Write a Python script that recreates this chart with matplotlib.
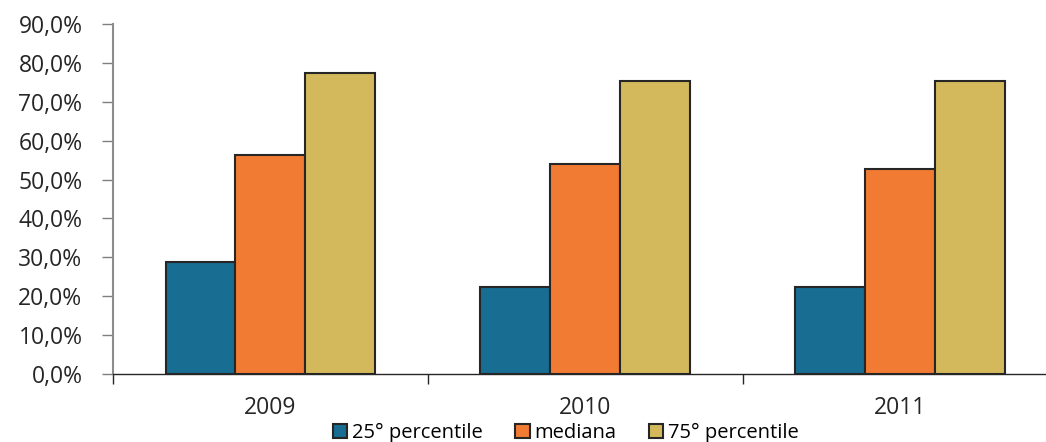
import matplotlib
matplotlib.use("Agg")
import matplotlib.pyplot as plt
import numpy as np
from matplotlib.ticker import FuncFormatter, FixedLocator

years = ["2009", "2010", "2011"]
series = ["25° percentile", "mediana", "75° percentile"]
p25 = [28.8, 22.4, 22.3]
median = [56.3, 53.9, 52.8]
p75 = [77.5, 75.4, 75.4]
colors = ["#186e92", "#f27b33", "#d4b95c"]

plt.rcParams.update({"font.family": "Open Sans", "font.size": 14})

W, H = 1046, 442
fig = plt.figure(figsize=(W / 100, H / 100), dpi=100)
ax = fig.add_axes([113 / W, 68 / H, (1057.5 - 113) / W, 350 / H])

x = np.arange(len(years))
width = 0.222
for i, (vals, name, col) in enumerate(zip([p25, median, p75], series, colors)):
    ax.bar(x + (i - 1) * width, vals, width, color=col, edgecolor="#262626",
           linewidth=1.5, label=name, zorder=2)

ax.set_xlim(-0.5, 2.5)
ax.set_ylim(0, 90)
ax.set_yticks(np.arange(0, 91, 10))
ax.yaxis.set_major_formatter(FuncFormatter(lambda v, p: f"{v:.1f}%".replace(".", ",")))
ax.set_xticks(x)
ax.set_xticklabels(years)
ax.xaxis.set_minor_locator(FixedLocator([-0.5, 0.5, 1.5, 2.5]))
ax.tick_params(axis="x", which="major", length=0, pad=16, labelsize=16.5, colors="#262626")
ax.tick_params(axis="x", which="minor", length=7, width=1, color="#262626")
ax.tick_params(axis="y", length=8, width=1, color="#7f7f7f", pad=14,
               labelsize=16.5, labelcolor="#262626")

for s in ["top", "right"]:
    ax.spines[s].set_visible(False)
ax.spines["left"].set_color("#8c8c8c")
ax.spines["left"].set_linewidth(1.5)
ax.spines["bottom"].set_color("#262626")
ax.spines["bottom"].set_linewidth(1)

fig.legend(loc="center", bbox_to_anchor=(566 / W, 1 - 433 / H), ncol=3,
           frameon=False, fontsize=14.5, handlelength=0.7, handleheight=0.7,
           handletextpad=0.25, columnspacing=1.6)

fig.savefig("out.png", dpi=100)
